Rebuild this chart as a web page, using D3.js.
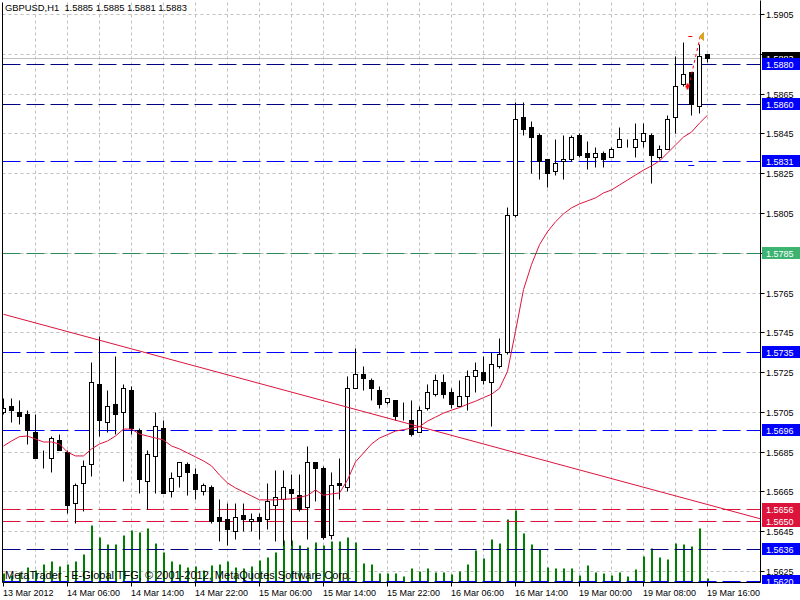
<!DOCTYPE html>
<html>
<head>
<meta charset="utf-8">
<script src="https://cdn.jsdelivr.net/npm/d3@7"></script>
<style>
body { margin: 0; background: #fff; }
svg { display: block; font-family: "Liberation Sans", Arial, sans-serif; font-size: 9px; }
</style>
</head>
<body>
<svg id="chart" width="800" height="600"></svg>
<script>
// GBPUSD H1 bars, 13 Mar 22:00 .. 19 Mar 16:00
var open  = [1.5705,1.5708,1.5705,1.5704,1.5695,1.5681,1.5682,1.5691,1.5685,1.5659,1.5669,1.5679,1.5719,1.5700,1.5709,1.5705,1.5716,1.5696,1.5670,1.5683,1.5697,1.5665,1.5673,1.5679,1.5674,1.5665,1.5667,1.5652,1.5651,1.5645,1.5653,1.5650,1.5652,1.5651,1.5658,1.5661,1.5666,1.5663,1.5657,1.5680,1.5677,1.5643,1.5669,1.5667,1.5717,1.5724,1.5721,1.5716,1.5710,1.5711,1.5702,1.5701,1.5695,1.5707,1.5714,1.5720,1.5715,1.5708,1.5713,1.5723,1.5725,1.5720,1.5728,1.5735,1.5804,1.5853,1.5848,1.5844,1.5832,1.5826,1.5831,1.5832,1.5844,1.5835,1.5833,1.5835,1.5833,1.5838,1.5840,1.5838,1.5841,1.5844,1.5833,1.5837,1.5853,1.5870,1.5876,1.5859,1.5885]
var high  = [1.5712,1.5712,1.5711,1.5706,1.5704,1.5686,1.5693,1.5694,1.5686,1.5669,1.5681,1.5730,1.5743,1.5716,1.5733,1.5719,1.5718,1.5697,1.5686,1.5705,1.5701,1.5675,1.5680,1.5680,1.5677,1.5669,1.5668,1.5661,1.5659,1.5659,1.5659,1.5654,1.5654,1.5669,1.5676,1.5676,1.5674,1.5674,1.5688,1.5680,1.5678,1.5675,1.5682,1.5723,1.5737,1.5728,1.5722,1.5718,1.5712,1.5711,1.5710,1.5711,1.5708,1.5719,1.5724,1.5724,1.5717,1.5721,1.5726,1.5730,1.5733,1.5735,1.5742,1.5808,1.5861,1.5861,1.5851,1.5845,1.5832,1.5842,1.5844,1.5844,1.5845,1.5841,1.5838,1.5836,1.5838,1.5848,1.5842,1.5850,1.5850,1.5845,1.5839,1.5854,1.5884,1.5891,1.5876,1.5890,1.5885]
var low   = [1.5704,1.5700,1.5699,1.5689,1.5682,1.5677,1.5675,1.5686,1.5654,1.5649,1.5655,1.5673,1.5693,1.5695,1.5694,1.5670,1.5694,1.5664,1.5656,1.5664,1.5664,1.5662,1.5667,1.5663,1.5661,1.5663,1.5649,1.5640,1.5638,1.5641,1.5645,1.5645,1.5641,1.5646,1.5640,1.5638,1.5638,1.5655,1.5641,1.5660,1.5641,1.5641,1.5661,1.5665,1.5717,1.5716,1.5711,1.5707,1.5709,1.5701,1.5701,1.5693,1.5695,1.5706,1.5713,1.5712,1.5707,1.5708,1.5706,1.5715,1.5719,1.5698,1.5727,1.5734,1.5803,1.5844,1.5825,1.5822,1.5818,1.5824,1.5822,1.5831,1.5833,1.5827,1.5828,1.5828,1.5833,1.5838,1.5838,1.5833,1.5838,1.5820,1.5832,1.5837,1.5845,1.5869,1.5854,1.5855,1.5881]
var close = [1.5707,1.5706,1.5703,1.5696,1.5682,1.5681,1.5692,1.5686,1.5658,1.5668,1.5678,1.5720,1.5701,1.5708,1.5704,1.5717,1.5697,1.5671,1.5684,1.5698,1.5664,1.5672,1.5680,1.5675,1.5666,1.5668,1.5650,1.5650,1.5646,1.5652,1.5651,1.5651,1.5650,1.5660,1.5662,1.5667,1.5664,1.5656,1.5680,1.5677,1.5642,1.5668,1.5668,1.5717,1.5724,1.5722,1.5717,1.5709,1.5712,1.5703,1.5702,1.5694,1.5706,1.5715,1.5721,1.5714,1.5709,1.5713,1.5723,1.5726,1.5721,1.5729,1.5734,1.5804,1.5852,1.5847,1.5843,1.5831,1.5825,1.5830,1.5832,1.5843,1.5834,1.5833,1.5835,1.5832,1.5837,1.5842,1.5840,1.5842,1.5845,1.5834,1.5837,1.5852,1.5869,1.5875,1.5860,1.5884,1.5883]
// tick volume per bar
var volume = [90,70,100,150,120,180,210,160,180,210,280,570,450,380,380,470,520,500,540,390,300,210,180,150,160,120,170,180,210,150,140,160,220,250,300,420,420,370,350,400,370,410,410,450,400,190,180,90,90,90,60,140,110,140,100,100,80,110,180,320,240,430,390,630,720,490,380,330,150,140,140,140,70,170,100,90,70,100,60,130,260,340,250,230,390,380,360,540,40]
// moving average
var ma = [1.56881,1.56906,1.56928,1.56931,1.56916,1.56901,1.56901,1.56891,1.56850,1.56831,1.56831,1.56866,1.56891,1.56906,1.56931,1.56966,1.56966,1.56941,1.56931,1.56921,1.56911,1.56881,1.56866,1.56846,1.56826,1.56806,1.56781,1.56735,1.56695,1.56670,1.56650,1.56630,1.56610,1.56610,1.56610,1.56613,1.56615,1.56623,1.56632,1.56660,1.56633,1.56640,1.56645,1.56710,1.56801,1.56846,1.56891,1.56921,1.56938,1.56956,1.56963,1.56971,1.56978,1.57006,1.57026,1.57046,1.57061,1.57074,1.57091,1.57106,1.57124,1.57141,1.57171,1.57256,1.57457,1.57667,1.57793,1.57893,1.57958,1.58008,1.58048,1.58078,1.58098,1.58113,1.58128,1.58153,1.58168,1.58193,1.58218,1.58243,1.58268,1.58289,1.58314,1.58354,1.58394,1.58434,1.58459,1.58504,1.58544]

var timeLabels = ["13 Mar 2012","14 Mar 06:00","14 Mar 14:00","14 Mar 22:00","15 Mar 06:00","15 Mar 14:00","15 Mar 22:00","16 Mar 06:00","16 Mar 14:00","19 Mar 00:00","19 Mar 08:00","19 Mar 16:00"]
var priceTicks = [1.5905,1.5885,1.5865,1.5845,1.5825,1.5805,1.5785,1.5765,1.5745,1.5725,1.5705,1.5685,1.5665,1.5645,1.5625]

// horizontal lines drawn on the chart
var blueLevels = [1.5831,1.5735,1.5696,1.5620]
var navyLevels = [1.5880,1.5860,1.5636]
var greenLevels = [1.5785]
var redLevels = [1.5656,1.5650]
var bid = 1.5883

// trend line: bar index and price at both ends
var trendBars = [0, 94.6]
var trendPrices = [1.57543, 1.56515]

// closed trade: open/close bar and price, stop and target
var tradeBars = [85.6, 87.1]
var tradePrices = [1.5869, 1.5894]
var tradeSL = 1.5894, tradeTP = 1.5829

var header = "GBPUSD,H1  1.5885 1.5885 1.5881 1.5883"
var copyright = "MetaTrader - E-Global TFG, \u00a9 2001-2012, MetaQuotes Software Corp."

var L = 2, R = 760, T = 2, B = 582
var n = open.length

var svg = d3.select('#chart')
var x = d3.scaleLinear().domain([0, 88]).range([3, 707])
var y = d3.scaleLinear().domain([1.5625, 1.5905]).range([571, 14])
var yv = d3.scaleLinear().domain([0, 1000]).range([B, B - 100])
var ry = function(p){ return Math.round(y(p)) }

svg.append('clipPath').attr('id', 'plot')
  .append('rect').attr('x', L).attr('y', 0).attr('width', R - L).attr('height', B + 1)

var g = svg.append('g').attr('transform', 'translate(0.5,0.5)')
var p = g.append('g').attr('clip-path', 'url(#plot)')

// grid
p.selectAll('line.hgrid').data(priceTicks).enter().append('line')
  .attr('x1', L).attr('x2', R).attr('y1', ry).attr('y2', ry)
  .attr('stroke', '#c0c0c0').attr('stroke-dasharray', '3,3')
p.selectAll('line.vgrid').data(d3.range(4, 89, 4)).enter().append('line')
  .attr('x1', x).attr('x2', x).attr('y1', T).attr('y2', B)
  .attr('stroke', '#c0c0c0').attr('stroke-dasharray', '3,3')

// volumes
p.selectAll('line.vol').data(volume).enter().append('line')
  .attr('x1', function(d, i){ return x(i) + 0.5 }).attr('x2', function(d, i){ return x(i) + 0.5 })
  .attr('y1', B).attr('y2', function(d){ return Math.round(yv(d)) })
  .attr('stroke', '#008000').attr('stroke-width', 2)

// bid line
p.append('line').attr('x1', L).attr('x2', R).attr('y1', ry(bid)).attr('y2', ry(bid)).attr('stroke', '#c0c0c0')

// level lines
function levels(arr, col){
  p.selectAll(null).data(arr).enter().append('line')
    .attr('x1', L).attr('x2', R).attr('y1', ry).attr('y2', ry)
    .attr('stroke', col).attr('stroke-dasharray', '18,6')
}
levels(blueLevels, '#0000ff')
levels(navyLevels, '#000080')
levels(greenLevels, '#2e8b57')
levels(redLevels, '#dc143c')

// candles
var c = p.selectAll('g.bar').data(d3.range(n)).enter().append('g')
c.append('line')
  .attr('x1', x).attr('x2', x)
  .attr('y1', function(i){ return ry(high[i]) }).attr('y2', function(i){ return ry(low[i]) })
  .attr('stroke', '#000')
c.append('rect')
  .attr('x', function(i){ return x(i) - 2 }).attr('width', 4)
  .attr('y', function(i){ return ry(Math.max(open[i], close[i])) })
  .attr('height', function(i){ return ry(Math.min(open[i], close[i])) - ry(Math.max(open[i], close[i])) })
  .attr('fill', function(i){ return close[i] >= open[i] ? '#fff' : '#000' })
  .attr('stroke', '#000')

// trend line and moving average
p.append('line')
  .attr('x1', x(trendBars[0])).attr('y1', y(trendPrices[0]))
  .attr('x2', x(trendBars[1])).attr('y2', y(trendPrices[1]))
  .attr('stroke', '#dc143c')
p.append('path')
  .attr('d', d3.line().x(function(d, i){ return x(i) }).y(function(d){ return y(d) })(ma))
  .attr('fill', 'none').attr('stroke', '#dc143c')

// trade history
p.append('line').attr('x1', x(tradeBars[0]) + 0.5).attr('x2', x(tradeBars[1]))
  .attr('y1', y(tradePrices[0])).attr('y2', y(tradePrices[1]))
  .attr('stroke', '#ff0000').attr('stroke-dasharray', '3,3')
p.append('line').attr('x1', x(tradeBars[0])).attr('x2', x(tradeBars[0]) + 6)
  .attr('y1', ry(tradeSL)).attr('y2', ry(tradeSL)).attr('stroke', '#ff0000').attr('stroke-dasharray', '4,2')
p.append('line').attr('x1', x(tradeBars[0])).attr('x2', x(tradeBars[0]) + 6)
  .attr('y1', ry(tradeTP)).attr('y2', ry(tradeTP)).attr('stroke', '#0000ff')
var ox = Math.round(x(tradeBars[0])), oy = ry(tradePrices[0])
p.append('path').attr('d', 'M' + (ox - 1) + ',' + (oy - 3) + 'V' + (oy + 3) + 'M' + (ox - 3) + ',' + oy + 'H' + (ox + 1))
  .attr('stroke', '#ff0000').attr('stroke-width', 2)
var cx = Math.round(x(tradeBars[1])), cy = ry(tradePrices[1])
p.append('path').attr('d', 'M' + (cx - 1) + ',' + cy + 'L' + (cx + 3) + ',' + (cy - 4) + 'V' + (cy + 4) + 'Z')
  .attr('fill', '#daa520').attr('stroke', '#daa520')

// frame
g.append('path').attr('d', 'M' + L + ',' + T + 'V' + B + 'H' + R + 'V0')
  .attr('fill', 'none').attr('stroke', '#000')

// price axis
g.selectAll('line.ytick').data(priceTicks).enter().append('line')
  .attr('x1', R).attr('x2', R + 4).attr('y1', ry).attr('y2', ry).attr('stroke', '#000')
svg.selectAll('text.ytick').data(priceTicks).enter().append('text')
  .attr('x', 766).attr('y', function(d){ return ry(d) + 4 })
  .text(function(d){ return d.toFixed(4) })

// coloured price labels
svg.append('clipPath').attr('id', 'axisclip').append('rect').attr('x', R).attr('y', 0).attr('width', 40).attr('height', B + 2)
var lab = svg.append('g').attr('clip-path', 'url(#axisclip)')
function tag(pr, col){
  var yy = ry(pr)
  lab.append('rect').attr('x', 762).attr('y', yy - 6).attr('width', 38).attr('height', 12).attr('fill', col)
  lab.append('text').attr('x', 766).attr('y', yy + 4).attr('fill', '#fff').text(pr.toFixed(4))
}
tag(bid, '#000')
blueLevels.concat(navyLevels).forEach(function(d){ tag(d, '#0000ff') })
greenLevels.forEach(function(d){ tag(d, '#3cb371') })
redLevels.forEach(function(d){ tag(d, '#dc143c') })

// time axis
var tb = timeLabels.map(function(d, i){ return i * 8 })
g.selectAll('line.xtick').data(tb).enter().append('line')
  .attr('x1', x).attr('x2', x).attr('y1', B).attr('y2', B + 4).attr('stroke', '#000')
svg.selectAll('text.xtick').data(timeLabels).enter().append('text')
  .attr('x', function(d, i){ return x(tb[i]) }).attr('y', 596)
  .text(function(d){ return d })

// captions
svg.append('text').attr('x', 5).attr('y', 11).style('white-space', 'pre').style('font-size', '9.4px').text(header)
svg.append('text').attr('x', 5).attr('y', 579).style('font-size', '11px').text(copyright)
</script>
</body>
</html>
